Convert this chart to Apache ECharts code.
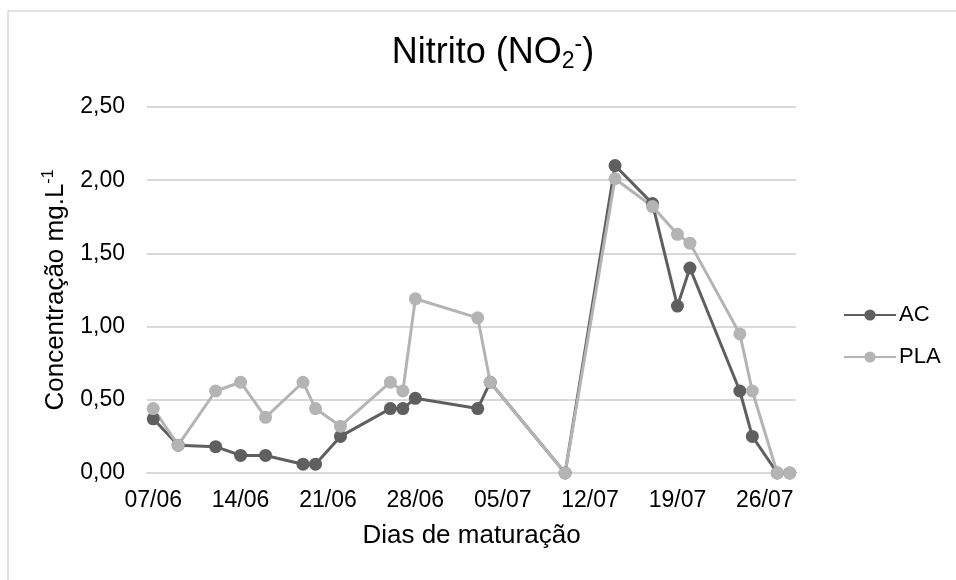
<!DOCTYPE html>
<html>
<head>
<meta charset="utf-8">
<script src="https://cdn.jsdelivr.net/npm/echarts@6/dist/echarts.min.js"></script>
<style>
  html, body { margin: 0; padding: 0; background: #fff; }
  #chart { width: 956px; height: 580px; }
</style>
</head>
<body>
<div id="chart"></div>
<script>
// datas de coleta (dd/mm)
const dates = ['07/06', '09/06', '12/06', '14/06', '16/06', '19/06', '20/06', '22/06',
  '26/06', '27/06', '28/06', '03/07', '04/07', '10/07', '14/07', '17/07',
  '19/07', '20/07', '24/07', '25/07', '27/07', '28/07'];
const acValues = [0.37, 0.19, 0.18, 0.12, 0.12, 0.06, 0.06, 0.25,
  0.44, 0.44, 0.51, 0.44, 0.62, 0.00, 2.10, 1.84,
  1.14, 1.40, 0.56, 0.25, 0.00, 0.00];
const plaValues = [0.44, 0.19, 0.56, 0.62, 0.38, 0.62, 0.44, 0.32,
  0.62, 0.56, 1.19, 1.06, 0.62, 0.00, 2.01, 1.82,
  1.63, 1.57, 0.95, 0.56, 0.00, 0.00];
const tickLabels = ['07/06', '14/06', '21/06', '28/06', '05/07', '12/07', '19/07', '26/07'];

const font = '"Liberation Sans", Arial, sans-serif';

// dias contados a partir da primeira coleta
function dayOf(s) {
  let [d, m] = s.split('/').map(Number);
  let t0 = Date.UTC(2021, 5, 7);
  return Math.round((Date.UTC(2021, m - 1, d) - t0) / 86400000);
}
const tickDays = tickLabels.map(dayOf);

let chart = echarts.init(document.getElementById('chart'), null, { renderer: 'canvas' });

let option = {
  backgroundColor: '#fff',
  animation: false,
  title: {
    text: '{a|Nitrito (NO}{sub|2}{sup|-}{a|)}',
    left: 488,
    top: 28,
    textAlign: 'center',
    textStyle: {
      fontFamily: font,
      fontWeight: 'normal',
      rich: {
        a: { fontSize: 36, color: '#000', fontFamily: font, fontWeight: 'normal', lineHeight: 40 },
        sub: { fontSize: 23, color: '#000', fontFamily: font, fontWeight: 'normal', verticalAlign: 'bottom', lineHeight: 40, padding: [14, 0, 0, 0] },
        sup: { fontSize: 23, color: '#000', fontFamily: font, fontWeight: 'normal', verticalAlign: 'top', lineHeight: 40, padding: [0, 0, 12, 0] }
      }
    }
  },
  legend: {
    orient: 'vertical',
    left: 838,
    top: 297,
    itemWidth: 52,
    itemHeight: 14,
    itemGap: 16,
    textStyle: { fontFamily: font, fontSize: 22, color: '#000', lineHeight: 26, padding: [0, 0, 0, -2] },
    data: ['AC', 'PLA']
  },
  graphic: [{
    type: 'polyline',
    shape: { points: [[8, 590], [8, 11], [960, 11]] },
    style: { stroke: '#d9d9d9', lineWidth: 1.5, fill: null },
    silent: true
  }],
  grid: { left: 147, top: 107, width: 649, height: 366 },
  xAxis: {
    type: 'value',
    min: -0.5,
    max: 51.5,
    name: 'Dias de maturação',
    nameLocation: 'middle',
    nameGap: 50,
    nameTextStyle: { fontFamily: font, fontSize: 26, color: '#000' },
    axisLine: { show: true, lineStyle: { color: '#d9d9d9', width: 2 } },
    axisTick: { show: false },
    splitLine: { show: false },
    axisLabel: {
      customValues: tickDays,
      formatter: v => tickLabels[tickDays.indexOf(Math.round(v))] || '',
      fontFamily: font, fontSize: 23, color: '#000', margin: 16
    }
  },
  yAxis: {
    type: 'value',
    min: 0,
    max: 2.5,
    interval: 0.5,
    name: '{a|Concentração mg.L}{sup|-1}',
    nameLocation: 'middle',
    nameGap: 76,
    nameRotate: 90,
    nameTextStyle: {
      rich: {
        a: { fontFamily: font, fontSize: 26, color: '#000', lineHeight: 30 },
        sup: { fontFamily: font, fontSize: 16, color: '#000', verticalAlign: 'top', lineHeight: 30, padding: [0, 0, 10, 0] }
      }
    },
    axisLine: { show: false },
    axisTick: { show: false },
    splitLine: { lineStyle: { color: '#d9d9d9', width: 2 } },
    axisLabel: {
      formatter: v => v.toFixed(2).replace('.', ','),
      fontFamily: font, fontSize: 23, color: '#000', margin: 22
    }
  },
  series: [{
    name: 'AC',
    type: 'line',
    data: dates.map((d, i) => [dayOf(d), acValues[i]]),
    symbol: 'circle',
    symbolSize: 13,
    color: '#5f5f5f',
    lineStyle: { width: 3, color: '#5f5f5f' },
    itemStyle: { color: '#5f5f5f' }
  }, {
    name: 'PLA',
    type: 'line',
    data: dates.map((d, i) => [dayOf(d), plaValues[i]]),
    symbol: 'circle',
    symbolSize: 13,
    color: '#b4b4b4',
    lineStyle: { width: 3, color: '#b4b4b4' },
    itemStyle: { color: '#b4b4b4' }
  }]
};
chart.setOption(option);
</script>
</body>
</html>
